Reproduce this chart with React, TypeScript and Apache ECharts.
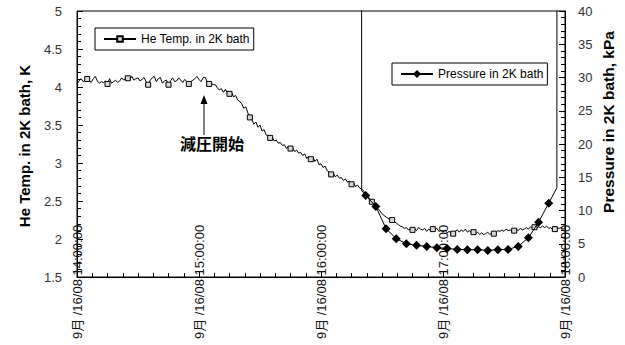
import React, { useEffect, useRef } from "react";
import * as echarts from "echarts";

// x axis: minutes after 14:00
const xTickLabels = [
  "9月 /16/08 14:00:00",
  "9月 /16/08 15:00:00",
  "9月 /16/08 16:00:00",
  "9月 /16/08 17:00:00",
  "9月 /16/08 18:00:00",
];

// He temperature, one reading per minute from 14:00
const tempStartMinute = 0;
const tempStepMinutes = 1;
const heTempK = [
  4.04, 4.08, 4.11, 4.07, 4.09, 4.105, 4.08, 4.06, 4.11, 4.14,
  4.08, 4.05, 4.07, 4.06, 4.08, 4.04, 4.11, 4.05, 4.07, 4.09,
  4.06, 4.08, 4.12, 4.09, 4.12, 4.115, 4.10, 4.14, 4.09, 4.11,
  4.12, 4.08, 4.10, 4.125, 4.07, 4.03, 4.09, 4.12, 4.14, 4.07,
  4.11, 4.125, 4.05, 4.08, 4.09, 4.03, 4.08, 4.12, 4.07, 4.08,
  4.12, 4.09, 4.06, 4.10, 4.07, 4.04, 4.07, 4.09, 4.11, 4.14,
  4.10, 4.07, 4.12, 4.13, 4.07, 4.04, 4.05, 4.03, 4.03, 3.99,
  3.96, 3.98, 3.93, 3.97, 3.92, 3.91, 3.93, 3.87, 3.89, 3.83,
  3.81, 3.78, 3.72, 3.74, 3.66, 3.60, 3.57, 3.51, 3.54, 3.47,
  3.50, 3.42, 3.44, 3.37, 3.36, 3.33, 3.34, 3.29, 3.30, 3.26,
  3.27, 3.23, 3.24, 3.19, 3.22, 3.19, 3.20, 3.15, 3.17, 3.13,
  3.14, 3.10, 3.12, 3.06, 3.09, 3.05, 3.08, 3.02, 3.05, 2.98,
  2.99, 2.94, 2.96, 2.90, 2.88, 2.85, 2.87, 2.82, 2.84, 2.80,
  2.81, 2.77, 2.79, 2.75, 2.76, 2.72, 2.74, 2.69, 2.71, 2.67,
  2.66, 2.63, 2.59, 2.56, 2.53, 2.49, 2.47, 2.44, 2.40, 2.37,
  2.33, 2.31, 2.29, 2.27, 2.26, 2.25, 2.23, 2.21, 2.19, 2.17,
  2.16, 2.14, 2.15, 2.12, 2.13, 2.12, 2.14, 2.11, 2.15, 2.13,
  2.12, 2.14, 2.10, 2.13, 2.11, 2.13, 2.12, 2.14, 2.10, 2.11,
  2.09, 2.12, 2.08, 2.10, 2.08, 2.07, 2.10, 2.12, 2.09, 2.12,
  2.10, 2.13, 2.09, 2.11, 2.08, 2.09, 2.07, 2.09, 2.06, 2.08,
  2.06, 2.07, 2.09, 2.06, 2.08, 2.07, 2.09, 2.11, 2.10, 2.12,
  2.10, 2.13, 2.11, 2.12, 2.10, 2.11, 2.13, 2.11, 2.14, 2.12,
  2.13, 2.15, 2.13, 2.16, 2.14, 2.155, 2.14, 2.16, 2.15, 2.17,
  2.15, 2.17, 2.14, 2.15, 2.12, 2.13, 2.15, 2.14, 2.15, 2.13,
  2.14,
];
const tempMarkerEvery = 10;
const tempMarkerOffset = 5;

// Pressure (kPa); first and last readings are off-scale (atmospheric)
const pressureMinutes = [
  139.9, 140, 142, 147, 152, 157, 162, 167, 172, 177, 182, 187, 192, 197,
  202, 207, 212, 217, 222, 227, 232, 236, 236.1,
];
const pressureKPa = [
  100, 13.0, 12.26, 10.6, 7.26, 5.76, 5.01, 4.76, 4.6, 4.41, 4.3, 4.15, 4.11,
  4.11, 4.0, 4.11, 4.15, 4.6, 5.9, 8.25, 11.1, 13.4, 100,
];
const pressureMarked = [
  false, false, true, true, true, true, true, true, true, true, true, true,
  true, true, true, true, true, true, true, true, true, false, false,
];

const annotationText = "減圧開始";
const tempName = "He Temp. in 2K bath";
const pressName = "Pressure in 2K bath";

const FONT = "'Liberation Sans', Arial, 'Noto Sans CJK JP', sans-serif";

export default function App() {
  const ref = useRef<HTMLDivElement>(null);

  useEffect(() => {
    if (!ref.current) return;
    const chart = echarts.init(ref.current, undefined, { renderer: "svg" });

    const tempData = heTempK.map((v, i) => {
      const item: any = { value: [tempStartMinute + i * tempStepMinutes, v] };
      if (i % tempMarkerEvery !== tempMarkerOffset) item.symbol = "none";
      return item;
    });
    const pressData = pressureKPa.map((v, i) => {
      const item: any = { value: [pressureMinutes[i], v] };
      if (!pressureMarked[i]) item.symbol = "none";
      return item;
    });

    const option: any = {
      animation: false,
      backgroundColor: "#fff",
      textStyle: { fontFamily: FONT },
      grid: {
        left: 77,
        right: 60,
        top: 11,
        bottom: 68,
        show: true,
        borderColor: "#000",
        borderWidth: 1,
        backgroundColor: "transparent",
      },
      legend: [
        {
          data: [tempName],
          left: 95,
          top: 28,
          orient: "horizontal",
          backgroundColor: "#fff",
          borderColor: "#000",
          borderWidth: 1,
          borderRadius: 0,
          padding: [5, 4, 5, 8],
          itemWidth: 32,
          itemHeight: 7,
          itemGap: 0,
          textStyle: { fontSize: 12, color: "#000", fontFamily: FONT },
        },
        {
          data: [pressName],
          left: 392,
          top: 63,
          orient: "horizontal",
          backgroundColor: "#fff",
          borderColor: "#000",
          borderWidth: 1,
          borderRadius: 0,
          padding: [5, 4, 5, 8],
          itemWidth: 32,
          itemHeight: 10,
          itemGap: 0,
          textStyle: { fontSize: 12, color: "#000", fontFamily: FONT },
        },
      ],
      xAxis: {
        type: "value",
        min: 0,
        max: 240,
        interval: 60,
        axisLine: { show: true, lineStyle: { color: "#000", width: 1 } },
        axisTick: { show: true, inside: true, length: 5, lineStyle: { color: "#000" } },
        minorTick: { show: true, splitNumber: 8, length: 4, lineStyle: { color: "#000" } },
        splitLine: { show: false },
        axisLabel: {
          rotate: 90,
          align: "center",
          verticalAlign: "middle",
          margin: 5,
          fontSize: 13,
          color: "#111",
          fontFamily: FONT,
          formatter: (v: number) => xTickLabels[Math.round(v / 60)] ?? "",
        },
      },
      yAxis: [
        {
          type: "value",
          position: "left",
          min: 1.5,
          max: 5,
          interval: 0.5,
          axisLine: { show: true, lineStyle: { color: "#000" } },
          axisTick: { show: true, inside: true, length: 6, lineStyle: { color: "#000" } },
          minorTick: { show: true, splitNumber: 5, length: 4, lineStyle: { color: "#000" } },
          splitLine: { show: false },
          axisLabel: { margin: 15, fontSize: 13, color: "#333", fontFamily: FONT },
        },
        {
          type: "value",
          position: "right",
          min: 0,
          max: 40,
          interval: 5,
          axisLine: { show: true, lineStyle: { color: "#000" } },
          axisTick: { show: true, inside: true, length: 6, lineStyle: { color: "#000" } },
          minorTick: { show: true, splitNumber: 5, length: 4, lineStyle: { color: "#000" } },
          splitLine: { show: false },
          axisLabel: { margin: 13, fontSize: 13, color: "#333", fontFamily: FONT },
        },
      ],
      series: [
        {
          name: tempName,
          type: "line",
          yAxisIndex: 0,
          data: tempData,
          symbol: "rect",
          symbolSize: 5,
          showSymbol: true,
          showAllSymbol: true,
          clip: true,
          lineStyle: { color: "#000", width: 1 },
          itemStyle: { color: "#d8d8d8", borderColor: "#000", borderWidth: 1 },
          z: 2,
        },
        {
          name: pressName,
          type: "line",
          yAxisIndex: 1,
          data: pressData,
          symbol: "diamond",
          symbolSize: 9,
          showSymbol: true,
          showAllSymbol: true,
          clip: true,
          lineStyle: { color: "#000", width: 1 },
          itemStyle: { color: "#000", borderColor: "#000", borderWidth: 0 },
          z: 3,
        },
      ],
      graphic: [
        {
          type: "text",
          x: 24,
          y: 146,
          rotation: Math.PI / 2,
          style: {
            text: "He Temp. in 2K bath, K",
            fontSize: 15,
            fontWeight: "bold",
            fontFamily: FONT,
            fill: "#000",
            align: "center",
            verticalAlign: "middle",
          },
        },
        {
          type: "text",
          x: 608,
          y: 122,
          rotation: Math.PI / 2,
          style: {
            text: "Pressure in 2K bath, kPa",
            fontSize: 15.5,
            fontWeight: "bold",
            fontFamily: FONT,
            fill: "#000",
            align: "center",
            verticalAlign: "middle",
          },
        },
        {
          type: "text",
          x: 212,
          y: 143,
          style: {
            text: annotationText,
            fontSize: 16,
            fontWeight: "bold",
            fontFamily: "'Noto Sans CJK JP', sans-serif",
            fill: "#000",
            align: "center",
            verticalAlign: "middle",
          },
        },
        {
          type: "line",
          shape: { x1: 204, y1: 135, x2: 204, y2: 102 },
          style: { stroke: "#000", lineWidth: 1 },
        },
        {
          type: "polygon",
          shape: { points: [[204, 95], [200.5, 104], [207.5, 104]] },
          style: { fill: "#000" },
        },
      ],
    };

    chart.setOption(option);
    return () => chart.dispose();
  }, []);

  return <div ref={ref} style={{ width: 625, height: 345, position: "absolute", left: 0, top: 0 }} />;
}
